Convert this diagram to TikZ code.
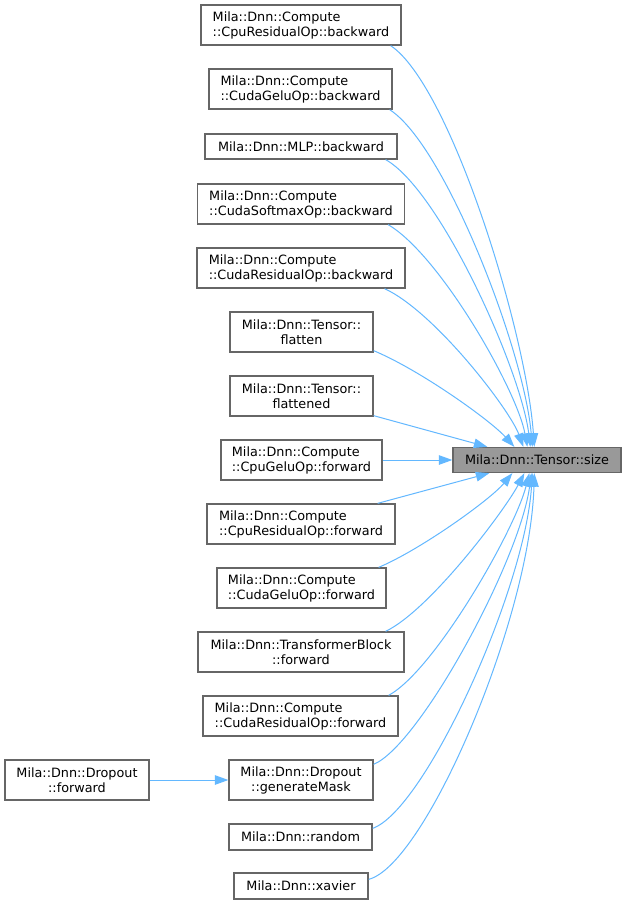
\documentclass[tikz,border=0pt]{standalone}
\usepackage{fontspec}
\setmainfont{DejaVu Sans}
\usetikzlibrary{arrows.meta}
\definecolor{edgeblue}{HTML}{63B8FF}
\definecolor{boxline}{HTML}{666666}
\definecolor{targetfill}{HTML}{999999}
\tikzset{
  box/.style={draw=boxline, line width=1.3pt, fill=white, inner sep=0pt, align=left,
    font=\fontsize{12.8}{15}\selectfont, text=black},
  cbox/.style={box, align=center},
  tbox/.style={box, fill=targetfill},
  edge/.style={draw=edgeblue, line width=1pt, -{Triangle[length=13.5pt,width=9.5pt]}},
}
\begin{document}
\begin{tikzpicture}[x=1pt,y=-1pt]
\useasboundingbox[fill=white] (0,0) rectangle (627,905);
\node[tbox, minimum width=168pt, minimum height=25pt] (t) at (537,460) {Mila::Dnn::Tensor::size};
\node[box, minimum width=200pt, minimum height=40pt] (n1) at (301,25) {Mila::Dnn::Compute\\::CpuResidualOp::backward};
\node[box, minimum width=183pt, minimum height=40pt] (n2) at (300.5,89) {Mila::Dnn::Compute\\::CudaGeluOp::backward};
\node[box, minimum width=192pt, minimum height=25pt] (n3) at (301,146.5) {Mila::Dnn::MLP::backward};
\node[box, minimum width=207pt, minimum height=40pt] (n4) at (301,204) {Mila::Dnn::Compute\\::CudaSoftmaxOp::backward};
\node[box, minimum width=208pt, minimum height=40pt] (n5) at (301,268) {Mila::Dnn::Compute\\::CudaResidualOp::backward};
\node[cbox, minimum width=143pt, minimum height=40pt] (n6) at (301.5,332) {Mila::Dnn::Tensor::\\flatten};
\node[cbox, minimum width=143pt, minimum height=40pt] (n7) at (301.5,396) {Mila::Dnn::Tensor::\\flattened};
\node[box, minimum width=161pt, minimum height=40pt] (n8) at (301.5,460) {Mila::Dnn::Compute\\::CpuGeluOp::forward};
\node[box, minimum width=188pt, minimum height=40pt] (n9) at (301,524) {Mila::Dnn::Compute\\::CpuResidualOp::forward};
\node[box, minimum width=169pt, minimum height=40pt] (n10) at (301.5,588) {Mila::Dnn::Compute\\::CudaGeluOp::forward};
\node[cbox, minimum width=206pt, minimum height=40pt] (n11) at (301,652) {Mila::Dnn::TransformerBlock\\::forward};
\node[box, minimum width=195pt, minimum height=40pt] (n12) at (300.5,716) {Mila::Dnn::Compute\\::CudaResidualOp::forward};
\node[cbox, minimum width=144pt, minimum height=40pt] (n13) at (301,780) {Mila::Dnn::Dropout\\::generateMask};
\node[cbox, minimum width=144pt, minimum height=40pt] (n14) at (77,780) {Mila::Dnn::Dropout\\::forward};
\node[box, minimum width=143pt, minimum height=26pt] (n15) at (300.5,837) {Mila::Dnn::random};
\node[box, minimum width=134pt, minimum height=26pt] (n16) at (301,886) {Mila::Dnn::xavier};
% edges into target top
\draw[edge] ([xshift=-11pt]n1.south east) .. controls (450,85) and (526,330) .. ([xshift=82pt]t.north west);
\draw[edge] ([xshift=-3pt]n2.south east) .. controls (445,145) and (524,350) .. ([xshift=80pt]t.north west);
\draw[edge] ([xshift=-12pt]n3.south east) .. controls (440,190) and (521,370) .. ([xshift=78pt]t.north west);
\draw[edge] ([xshift=-17pt]n4.south east) .. controls (440,255) and (517,390) .. ([xshift=75pt]t.north west);
\draw[edge] ([xshift=-21pt]n5.south east) .. controls (435,312) and (510,410) .. ([xshift=71pt]t.north west);
\draw[edge] ([yshift=2pt]n6.south east) .. controls (420,370) and (490,420) .. ([xshift=62pt]t.north west);
\draw[edge] ([yshift=1pt]n7.south east) -- ([xshift=35pt]t.north west);
\draw[edge] (n8) -- (t);
% edges into target bottom
\draw[edge] ([xshift=-18pt]n9.north east) -- ([xshift=37pt]t.south west);
\draw[edge] ([xshift=-8pt]n10.north east) .. controls (420,550) and (490,500) .. ([xshift=60pt]t.south west);
\draw[edge] ([xshift=-19pt]n11.north east) .. controls (430,610) and (505,510) .. ([xshift=72pt]t.south west);
\draw[edge] ([xshift=-10pt]n12.north east) .. controls (435,670) and (515,530) .. ([xshift=77pt]t.south west);
\draw[edge] ([yshift=-5pt]n13.north east) .. controls (420,745) and (520,560) .. ([xshift=79pt]t.south west);
\draw[edge] ([yshift=-5pt]n15.north east) .. controls (425,810) and (525,590) .. ([xshift=80pt]t.south west);
\draw[edge] ([yshift=-7pt]n16.north east) .. controls (425,865) and (530,620) .. ([xshift=82pt]t.south west);
\draw[edge] (n14) -- (n13);
\end{tikzpicture}
\end{document}
